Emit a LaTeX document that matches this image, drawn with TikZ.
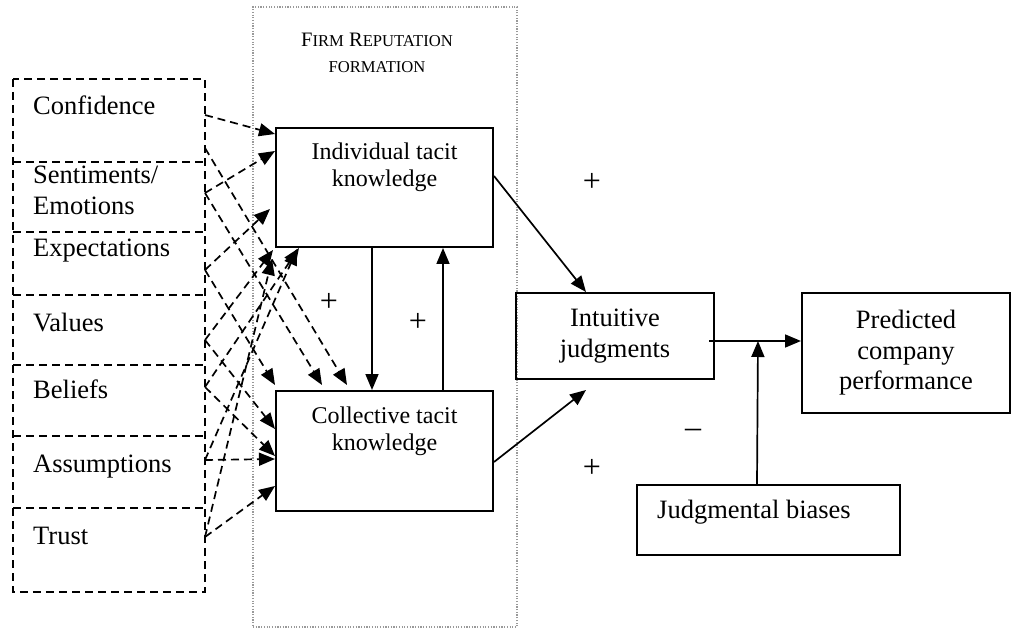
\documentclass[tikz,border=0pt]{standalone}
\usepackage{fontspec}
\setmainfont{Liberation Serif}
\usetikzlibrary{arrows.meta,calc}
\begin{document}
\begin{tikzpicture}[x=1pt,y=-1pt,
  lbl/.style={font=\fontsize{26.5}{31}\selectfont, inner sep=0pt, align=left},
  btxt/.style={font=\fontsize{26.5}{30.5}\selectfont, inner sep=0pt, align=center},
  stxt/.style={font=\fontsize{24}{27}\selectfont, inner sep=0pt, align=center},
  sign/.style={font=\fontsize{32}{34}\selectfont, inner sep=0pt},
  solidbox/.style={draw, line width=2pt, inner sep=0pt},
  fbox/.style={minimum width=192pt, inner sep=0pt, outer sep=0pt},
  dsh/.style={line width=1.7pt, dash pattern=on 8pt off 5pt},
  arr/.style={line width=1.7pt, -{Triangle[length=16pt,width=13pt]}},
  darr/.style={dsh, -{Triangle[length=16pt,width=13pt]}}
]
\useasboundingbox (0,0) rectangle (1013,631);

% dotted frame
\node[draw=gray!80, line width=1.2pt, dash pattern=on 1.2pt off 1.5pt, minimum width=264pt, minimum height=620pt, inner sep=0pt] (frame) at (385,317) {};
\node[font=\fontsize{20.5}{24}\selectfont, inner sep=0pt, anchor=base] (title1) at (377,47) {F{\fontsize{16.6}{20}\selectfont IRM} R{\fontsize{16.6}{20}\selectfont EPUTATION}};
\node[font=\fontsize{16.6}{20}\selectfont, inner sep=0pt, anchor=base] (title2) at (377,73) {FORMATION};

% factor boxes (invisible, for naming)
\node[fbox, minimum height=83pt] (conf) at (109,120.5) {};
\node[fbox, minimum height=70pt] (sent) at (109,197) {};
\node[fbox, minimum height=63pt] (expe) at (109,263.5) {};
\node[fbox, minimum height=70pt] (valu) at (109,330) {};
\node[fbox, minimum height=71pt] (beli) at (109,400.5) {};
\node[fbox, minimum height=72pt] (assu) at (109,472) {};
\node[fbox, minimum height=84pt] (trus) at (109,550) {};
\draw[dsh] (conf.north west) rectangle (trus.south east);
\foreach \b in {sent,expe,valu,beli,assu,trus}
  \draw[dsh] (\b.north west) -- (\b.north east);

\node[lbl, anchor=base west] (tconf) at (33,115) {Confidence};
\node[lbl, anchor=west] (tsent) at (33,190) {Sentiments/\\Emotions};
\node[lbl, anchor=base west] (texpe) at (33,257) {Expectations};
\node[lbl, anchor=base west] (tvalu) at (33,331) {Values};
\node[lbl, anchor=base west] (tbeli) at (33,399) {Beliefs};
\node[lbl, anchor=base west] (tassu) at (33,472) {Assumptions};
\node[lbl, anchor=base west] (ttrus) at (33,544) {Trust};

% main boxes
\node[solidbox, minimum width=217pt, minimum height=119pt] (ind) at (384.5,187.5) {};
\node[stxt] (indt) at (384.5,167.5) {Individual tacit\\knowledge};
\node[solidbox, minimum width=217pt, minimum height=120pt] (col) at (384.5,451) {};
\node[stxt] (colt) at (384.5,431.5) {Collective tacit\\knowledge};
\node[solidbox, btxt, minimum width=198pt, minimum height=86pt] (intu) at (615,336) {Intuitive\\judgments};
\node[solidbox, btxt, minimum width=208pt, minimum height=120pt] (pred) at (906,353) {Predicted\\company\\performance};
\node[solidbox, minimum width=263pt, minimum height=70pt] (judg) at (768.5,520) {};
\node[btxt] (judgt) at (754,512) {Judgmental biases};

% start points of dashed arrows
\coordinate (pc1) at ($(conf.north east)+(0,36)$);
\coordinate (pc2) at ($(conf.north east)+(0,69)$);
\coordinate (ps) at ($(sent.north east)+(0,31)$);
\coordinate (pe) at ($(expe.north east)+(0,38)$);
\coordinate (pv) at ($(valu.north east)+(0,45)$);
\coordinate (pb) at ($(beli.north east)+(0,22)$);
\coordinate (pa) at ($(assu.north east)+(0,24)$);
\coordinate (pt) at ($(trus.north east)+(0,29)$);

% dashed arrows to individual tacit knowledge
\draw[darr] (pc1) -- ($(ind.north west)+(0,7)$);
\draw[darr] (ps) -- ($(ind.north west)+(0,24)$);
\draw[darr] (pe) -- ($(ind.south west)+(-5,-39)$);
\draw[darr] (pv) -- ($(ind.south west)+(-2,2)$);
\draw[darr] (pt) -- ($(ind.south west)+(-3,11)$);
\draw[darr] (pb) -- ($(ind.south west)+(24,0)$);
\draw[darr] (pa) -- ($(ind.south west)+(22,1)$);

% dashed arrows to collective tacit knowledge
\draw[darr] (pc2) -- ($(col.north west)+(72,-5)$);
\draw[darr] (ps) -- ($(col.north west)+(47,-5)$);
\draw[darr] (pe) -- ($(col.north west)+(0,-5)$);
\draw[darr] (pv) -- ($(col.north west)+(0,39)$);
\draw[darr] (pb) -- ($(col.north west)+(0,66)$);
\draw[darr] (pa) -- ($(col.north west)+(0,69)$);
\draw[darr] (pt) -- ($(col.north west)+(0,96)$);

% solid arrows
\draw[arr] ($(ind.south west)+(97,0)$) -- ($(col.north west)+(97,0)$);
\draw[arr] ($(col.north west)+(168,0)$) -- ($(ind.south west)+(168,0)$);
\draw[arr] ($(ind.north east)+(0,49)$) -- ($(intu.north west)+(71,0)$);
\draw[arr] ($(col.north east)+(0,72)$) -- ($(intu.south west)+(71,10)$);
\draw[arr] ($(intu.east)+(-6,5)$) -- ($(pred.west)+(0,-12)$);
\coordinate (merge) at ($(intu.east)+(43,5)$);
\draw[arr] ($(judg.north)+(-11.5,0)$) -- (merge);

% signs
\node[sign] (s1) at (329,302) {+};
\node[sign] (s2) at (418,322) {+};
\node[sign] (s3) at (592,182) {+};
\node[sign] (s4) at (592,468) {+};
\node[sign] (s5) at (693,433) {–};
\end{tikzpicture}
\end{document}
